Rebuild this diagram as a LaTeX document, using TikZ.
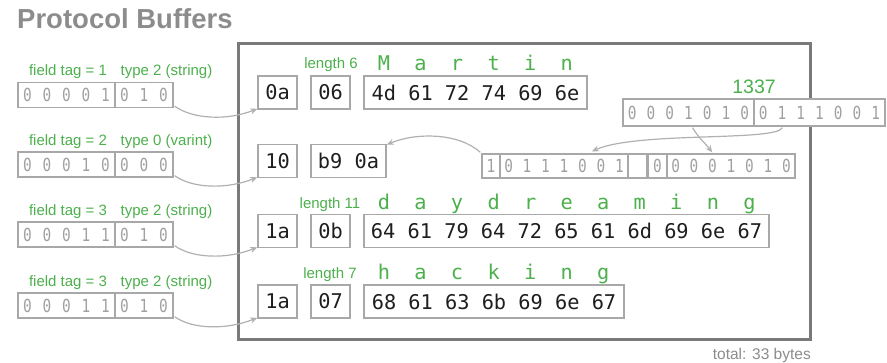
\documentclass[tikz,border=0pt]{standalone}
\usepackage{fontspec}
\usetikzlibrary{arrows.meta,calc}
\setmainfont{Liberation Sans}
\newfontfamily\hexfont{DejaVu Sans Mono}
\newfontfamily\bitfont[FakeStretch=0.8]{DejaVu Sans Mono}
\newcommand\bitsA{\bitfont\fontsize{18}{20}\selectfont\spaceskip=10.8pt\relax}
\newcommand\bitsU{\bitfont\fontsize{18}{20}\selectfont\spaceskip=10.1pt\relax}
\newcommand\bitsL{\bitfont\fontsize{18}{20}\selectfont\spaceskip=9.8pt\relax}
\definecolor{titlegray}{HTML}{8C8C8C}
\definecolor{framegray}{HTML}{7A7A7A}
\definecolor{boxgray}{HTML}{A8A8A8}
\definecolor{bitgray}{HTML}{A0A0A0}
\definecolor{pbgreen}{HTML}{4CB04C}
\definecolor{arrowgray}{HTML}{B0B0B0}
\definecolor{hexblack}{HTML}{1E1E1E}
\begin{document}
\begin{tikzpicture}[x=1pt,y=-1pt,
  frame/.style={draw=framegray,line width=3pt,inner sep=0pt},
  hexbox/.style={draw=boxgray,line width=1.6pt,fill=white,inner sep=0pt,minimum height=33pt,
    font=\hexfont\fontsize{20.3}{22}\selectfont,text=hexblack},
  bitbase/.style={draw=boxgray,line width=1.4pt,fill=white,inner sep=0pt,minimum height=25pt,text=bitgray},
  bitbox/.style={bitbase,font=\bitsA},
  bitboxu/.style={bitbase,font=\bitsU,minimum height=27pt},
  bitboxl/.style={bitbase,font=\bitsL,minimum height=24pt},
  glabel/.style={text=pbgreen,font=\fontsize{15}{17}\selectfont,inner sep=0pt,anchor=base},
  gletter/.style={text=pbgreen,font=\hexfont\fontsize{20.3}{22}\selectfont,inner sep=0pt,anchor=base},
  arr/.style={draw=arrowgray,line width=1.2pt,-{Stealth[length=7pt,width=6pt]}},
]
\useasboundingbox (0,0) rectangle (887,362);

% title and total
\node[anchor=base west,inner sep=0pt,text=titlegray,font=\bfseries\fontsize{27.5}{30}\selectfont] (title) at (17,28) {Protocol Buffers};
\node[anchor=base east,inner sep=0pt,text=titlegray,font=\fontsize{15.5}{17}\selectfont] (total) at (811,359) {total: 33 bytes};

% main frame
\node[frame,minimum width=572pt,minimum height=296pt] (frame) at (524,191) {};

% left field tags
\foreach \r/\cy/\tag/\typ/\ba/\bb in {1/95/1/type 2 (string)/0 0 0 0 1/0 1 0,
                                     2/164.5/2/type 0 (varint)/0 0 0 1 0/0 0 0,
                                     3/234.5/3/type 2 (string)/0 0 0 1 1/0 1 0,
                                     4/305.5/3/type 2 (string)/0 0 0 1 1/0 1 0}{
  \node[bitbox,minimum width=97pt] (fa\r) at (66.5,\cy) {\ba};
  \node[bitbox,minimum width=58pt] (fb\r) at (144,\cy) {\bb};
  \node[glabel] (ft\r) at (68,\cy-19.5) {field tag = \tag};
  \node[glabel] (fy\r) at (166.5,\cy-19.5) {\typ};
}

% row 1
\node[hexbox,minimum width=39pt] (t1) at (277.5,92.5) {0a};
\node[hexbox,minimum width=39pt] (l1) at (330.5,92.5) {06};
\node[hexbox,minimum width=223pt] (h1) at (475.5,92.5) {4d 61 72 74 69 6e};
\node[glabel] (len1) at (331,68) {length 6};
\foreach \c [count=\i from 0] in {M,a,r,t,i,n}
  \node[gletter] (ma\i) at (384+36.54*\i,70) {\c};

% row 2
\node[hexbox,minimum width=39pt] (t2) at (277.5,161) {10};
\node[hexbox,minimum width=75pt] (h2) at (348.5,161) {b9 0a};

% 1337 bits
\node[bitboxu,minimum width=131pt] (u1) at (688.5,112.5) {0 0 0 1 0 1 0};
\node[bitboxu,minimum width=131pt] (u2) at (819.5,112.5) {0 1 1 1 0 0 1};
\node[anchor=base,inner sep=0pt,text=pbgreen,font=\fontsize{19.5}{22}\selectfont] (n1337) at (754,93) {1337};

% varint bits
\node[bitboxl,minimum width=18pt] (b1) at (491,166) {1};
\node[bitboxl,minimum width=128pt] (b2) at (564,166) {0 1 1 1 0 0 1};
\node[bitboxl,minimum width=19pt] (b3) at (637.5,166) {};
\node[bitboxl,minimum width=19pt] (b4) at (657.5,166) {0};
\node[bitboxl,minimum width=128pt] (b5) at (731,166) {0 0 0 1 0 1 0};

\draw[arr] ($(u1.south)+(4,1)$) .. controls +(6,10) and +(-8,-10) .. ($(b5.north west)+(46,-1)$);
\draw[arr] ($(u2.south west)+(29,1)$) .. controls +(-6,14) and +(45,-20) .. ($(b2.north)+(28,-2)$);
\draw[arr] ($(b1.north west)+(-1,-1)$) .. controls +(-22,-20) and +(28,-12) .. ($(h2.north east)+(0,1)$);

% row 3
\node[hexbox,minimum width=39pt] (t3) at (277.5,231) {1a};
\node[hexbox,minimum width=39pt] (l3) at (330.5,231) {0b};
\node[hexbox,minimum width=405pt] (h3) at (566.5,231) {64 61 79 64 72 65 61 6d 69 6e 67};
\node[glabel] (len3) at (330,208) {length 11};
\foreach \c [count=\i from 0] in {d,a,y,d,r,e,a,m,i,n,g}
  \node[gletter] (da\i) at (384+36.54*\i,209) {\c};

% row 4
\node[hexbox,minimum width=39pt] (t4) at (277.5,301.5) {1a};
\node[hexbox,minimum width=39pt] (l4) at (330.5,301.5) {07};
\node[hexbox,minimum width=260pt] (h4) at (494,301.5) {68 61 63 6b 69 6e 67};
\node[glabel] (len4) at (330,278) {length 7};
\foreach \c [count=\i from 0] in {h,a,c,k,i,n,g}
  \node[gletter] (ha\i) at (384+36.54*\i,279) {\c};

% field arrows
\foreach \r in {1,2,3,4}
  \draw[arr] ($(fb\r.south east)+(1,-2)$) .. controls +(18,13) and +(-30,12) .. ($(t\r.south west)+(0,-1)$);

\end{tikzpicture}
\end{document}
